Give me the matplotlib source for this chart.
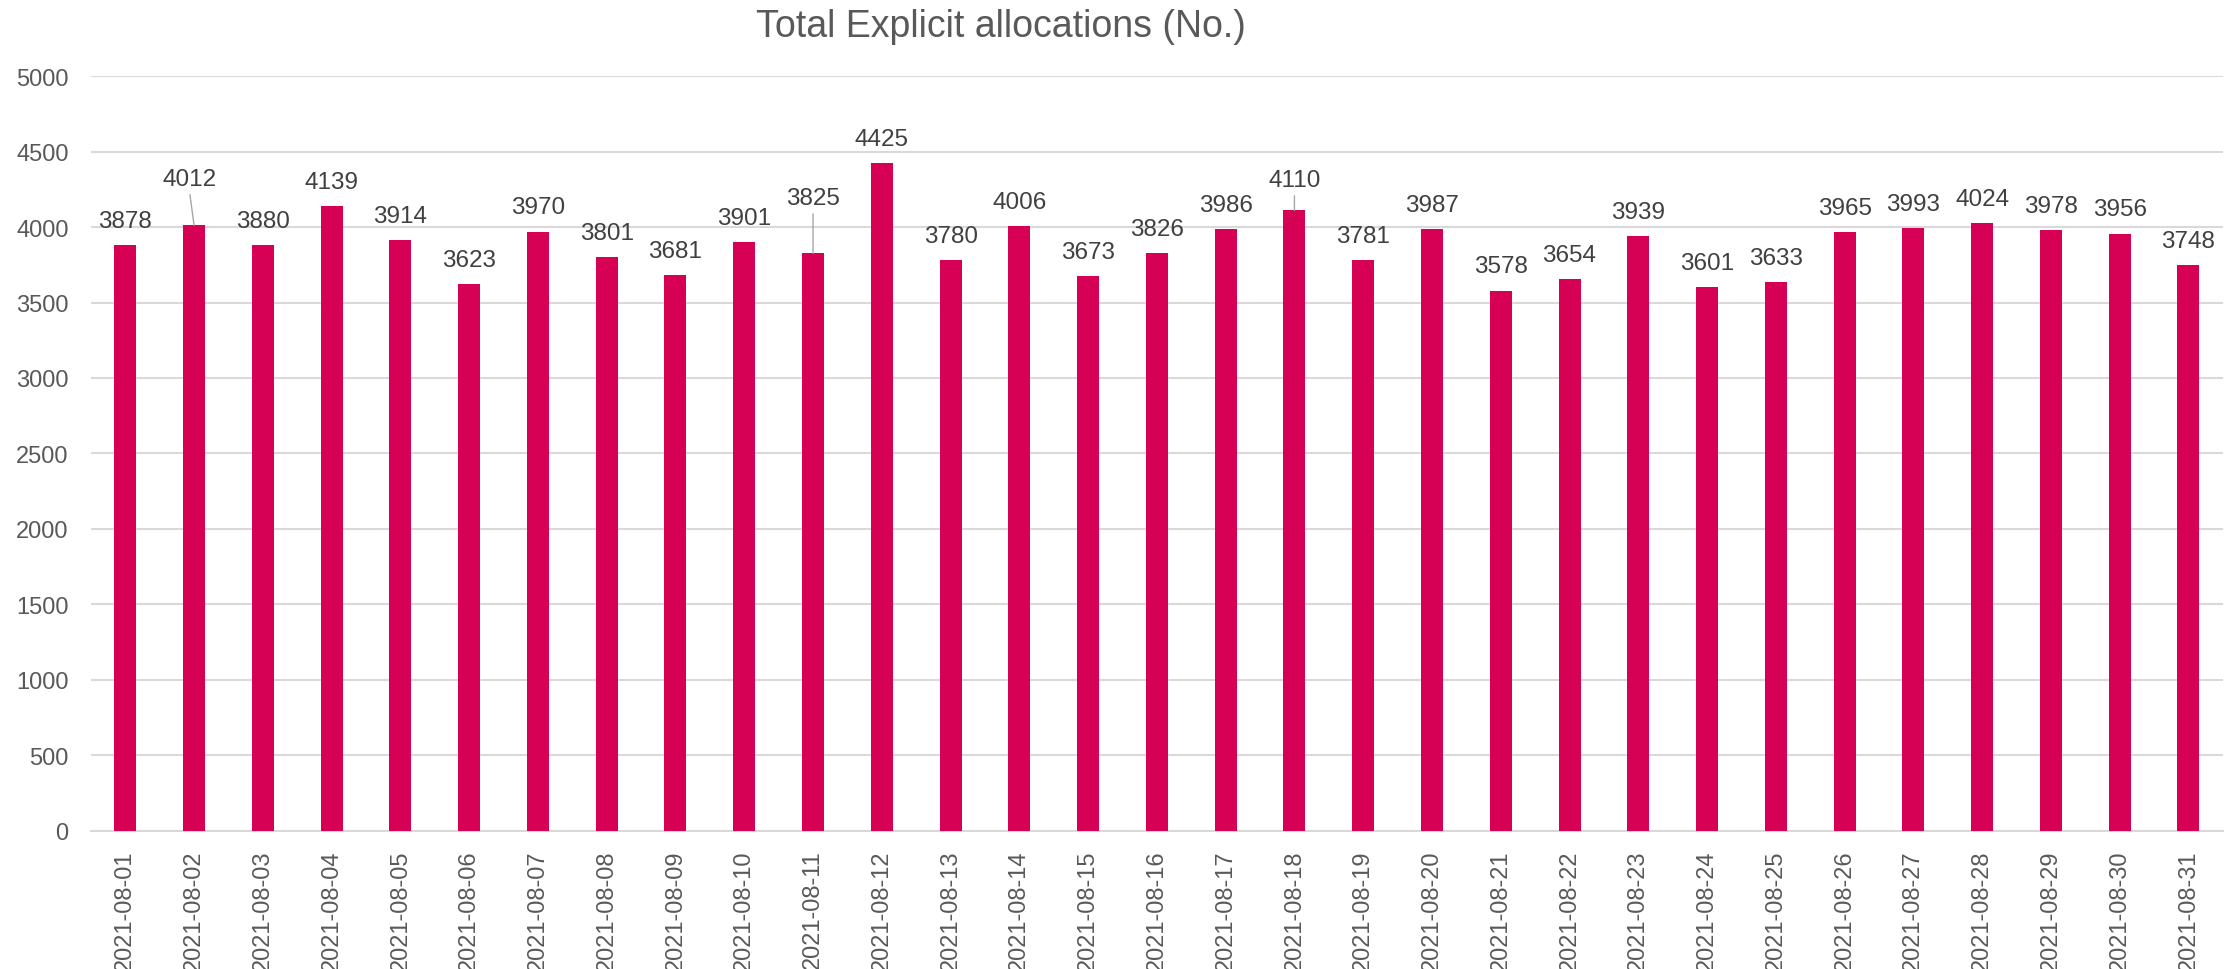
import matplotlib.pyplot as plt

plt.rcParams['font.family'] = ['Liberation Sans', 'DejaVu Sans']

dates = [f'2021-08-{d:02d}' for d in range(1, 32)]
values = [3878, 4012, 3880, 4139, 3914, 3623, 3970, 3801, 3681, 3901,
          3825, 4425, 3780, 4006, 3673, 3826, 3986, 4110, 3781, 3987,
          3578, 3654, 3939, 3601, 3633, 3965, 3993, 4024, 3978, 3956, 3748]
# labels that Excel pushed up and joined with a leader line
lifted = {1: (-3, 16), 10: (0, 22.5), 17: (0, 4.5)}

fig = plt.figure(figsize=(22.34, 9.70), dpi=100)
ax = fig.add_axes([0.0407, 0.1423, 0.9543, 0.7783])

x = list(range(len(values)))
ax.bar(x, values, width=0.32, color='#D60054', zorder=3)

for i, v in enumerate(values):
    dx, dy = lifted.get(i, (0, 0))
    off = 17.5 + dy
    ax.annotate(str(v), (i, v), xytext=(dx, off), textcoords='offset points',
                ha='center', va='center', fontsize=17.5, color='#404040')
    if i in lifted:
        ax.annotate('', (i, v), xytext=(dx, off - 11.5), textcoords='offset points',
                    arrowprops=dict(arrowstyle='-', color='#a6a6a6', lw=1,
                                    shrinkA=0, shrinkB=0))

ax.set_xlim(-0.5, len(values) - 0.5)
ax.set_ylim(0, 5000)
ax.set_yticks(range(0, 5001, 500))
ax.set_xticks(x)
ax.set_xticklabels(dates, rotation=90)
ax.tick_params(axis='both', length=0, labelsize=17, labelcolor='#595959')
ax.tick_params(axis='y', pad=16)
ax.tick_params(axis='x', pad=13)
ax.grid(axis='y', color='#d9d9d9', lw=1.5, zorder=0)
for s in ['top', 'right', 'left']:
    ax.spines[s].set_visible(False)
ax.spines['bottom'].set_color('#d9d9d9')
ax.spines['bottom'].set_linewidth(1.5)

fig.text(0.448, 0.972, 'Total Explicit allocations (No.)', ha='center', va='center',
         fontsize=27, color='#595959')

fig.savefig('out.png', dpi=100)
